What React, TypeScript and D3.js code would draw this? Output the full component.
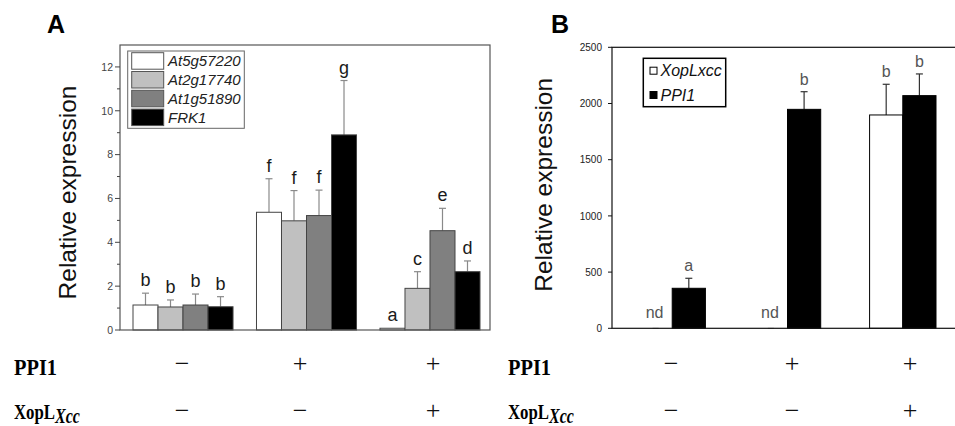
import React from "react";
import * as d3 from "d3";

// ---------- Panel A data ----------
const conditionsA = ["ctrl", "PPI1", "PPI1+XopL"];
const genesA = ["At5g57220", "At2g17740", "At1g51890", "FRK1"];
const meanA = [
  [1.14, 1.05, 1.14, 1.06],
  [5.37, 4.98, 5.22, 8.9],
  [0.08, 1.9, 4.53, 2.66],
];
const errA = [
  [0.54, 0.32, 0.5, 0.46],
  [1.53, 1.38, 1.16, 2.48],
  [0.02, 0.76, 1.02, 0.49],
];
const lettersA = [
  ["b", "b", "b", "b"],
  ["f", "f", "f", "g"],
  ["a", "c", "e", "d"],
];
const ticksA = [0, 2, 4, 6, 8, 10, 12];
const minorTicksA = [1, 3, 5, 7, 9, 11];

// ---------- Panel B data ----------
const conditionsB = ["ctrl", "PPI1", "PPI1+XopL"];
const seriesB = ["XopLxcc", "PPI1"];
const meanB: (number | null)[][] = [
  [null, 356],
  [null, 1948],
  [1898, 2070],
];
const errB = [
  [0, 89],
  [0, 157],
  [273, 193],
];
const lettersB = [
  ["nd", "a"],
  ["nd", "b"],
  ["b", "b"],
];
const ticksB = [0, 500, 1000, 1500, 2000, 2500];

// ---------- Treatment table ----------
const rowLabels = ["PPI1", "XopL"];
const rowSub = "Xcc";
const ppiSigns = ["−", "+", "+"];
const xopSigns = ["−", "−", "+"];

// ---------- styles ----------
const colorsA = ["#ffffff", "#c0c0c0", "#808080", "#000000"];
const colorsB = ["#ffffff", "#000000"];
const SANS = "'Liberation Sans', Arial, sans-serif";
const SERIF = "'Liberation Serif', 'Times New Roman', serif";

export default function App() {
  const W = 955;
  const H = 426;

  // Panel A scales
  const xA = d3.scaleBand<number>().domain(conditionsA.map((_, i) => i)).range([133, 480]).paddingInner(0.19);
  const xAi = d3.scaleBand<number>().domain(genesA.map((_, i) => i)).range([0, xA.bandwidth()]);
  const yA = d3.scaleLinear().domain([0, 13]).range([330, 45]);
  const frameA = { l: 120, r: 490 };

  // Panel B scales
  const xB = d3.scaleBand<number>().domain(conditionsB.map((_, i) => i)).range([639, 936]).paddingInner(0.424);
  const xBi = d3.scaleBand<number>().domain(seriesB.map((_, i) => i)).range([0, xB.bandwidth()]);
  const yB = d3.scaleLinear().domain([0, 2500]).range([328.3, 47.3]);
  const frameB = { l: 612, r: 962 };

  const colsA = [182, 300, 433];
  const colsB = [671, 792, 910];

  return (
    <svg width={W} height={H} style={{ position: "absolute", left: 0, top: 0, background: "#fff" }}>
      <rect x={0} y={0} width={W} height={H} fill="#fff" />

      {/* ================= Panel A ================= */}
      <text x={47} y={33} fontFamily={SANS} fontWeight="bold" fontSize={25} fill="#000">A</text>
      <text
        transform={`translate(76,${(yA(0) + yA(13)) / 2 + 5}) rotate(-90)`}
        textAnchor="middle"
        fontFamily={SANS}
        fontSize={24.5}
        fill="#111"
      >
        Relative expression
      </text>

      {/* bars */}
      {meanA.map((grp, gi) =>
        grp.map((v, si) => {
          const x0 = (xA(gi) ?? 0) + (xAi(si) ?? 0);
          const w = xAi.bandwidth();
          const cx = x0 + w / 2;
          const top = yA(v + errA[gi][si]);
          return (
            <g key={`a-${gi}-${si}`}>
              {errA[gi][si] > 0.05 && (
                <g stroke="#8a8a8a" strokeWidth={1.2}>
                  <line x1={cx} x2={cx} y1={yA(v)} y2={top} />
                  <line x1={cx - 3.5} x2={cx + 3.5} y1={top} y2={top} />
                </g>
              )}
              <rect
                x={x0}
                y={yA(v)}
                width={w}
                height={yA(0) - yA(v)}
                fill={colorsA[si]}
                stroke="#444"
                strokeWidth={1}
              />
              <text
                x={cx}
                y={top - 7}
                textAnchor="middle"
                fontFamily={SANS}
                fontSize={18}
                fill="#1a1a1a"
              >
                {lettersA[gi][si]}
              </text>
            </g>
          );
        })
      )}

      {/* frame A */}
      <rect x={frameA.l} y={yA(13)} width={frameA.r - frameA.l} height={yA(0) - yA(13)} fill="none" stroke="#555" strokeWidth={1.2} />
      {/* y ticks A */}
      {ticksA.map((t) => (
        <g key={`ta-${t}`}>
          <line x1={frameA.l - 5} x2={frameA.l} y1={yA(t)} y2={yA(t)} stroke="#444" strokeWidth={1} />
          <text x={frameA.l - 7} y={yA(t) + 3.8} textAnchor="end" fontFamily={SANS} fontSize={10.5} fill="#444">
            {t}
          </text>
        </g>
      ))}
      {minorTicksA.map((t) => (
        <line key={`ma-${t}`} x1={frameA.l - 3} x2={frameA.l} y1={yA(t)} y2={yA(t)} stroke="#444" strokeWidth={1} />
      ))}

      {/* legend A */}
      <rect x={127.7} y={51} width={116.6} height={77.3} fill="#fff" stroke="#666" strokeWidth={1} />
      {genesA.map((g, i) => {
        const y0 = 52.7 + i * 18.8;
        return (
          <g key={`la-${g}`}>
            <rect x={131.7} y={y0} width={32} height={16.5} fill={colorsA[i]} stroke="#555" strokeWidth={1} />
            <text x={168} y={y0 + 13.5} fontFamily={SANS} fontStyle="italic" fontSize={15} fill="#222">
              {g}
            </text>
          </g>
        );
      })}

      {/* ================= Panel B ================= */}
      <text x={551} y={33} fontFamily={SANS} fontWeight="bold" fontSize={25} fill="#000">B</text>
      <text
        transform={`translate(552,${(yB(0) + yB(2500)) / 2 - 3}) rotate(-90)`}
        textAnchor="middle"
        fontFamily={SANS}
        fontSize={24.5}
        fill="#111"
      >
        Relative expression
      </text>

      {meanB.map((grp, gi) =>
        grp.map((v, si) => {
          const x0 = (xB(gi) ?? 0) + (xBi(si) ?? 0);
          const w = xBi.bandwidth();
          const cx = x0 + w / 2;
          if (v === null) {
            return (
              <g key={`b-${gi}-${si}`}>
                <line x1={cx - 3} x2={cx + 3} y1={yB(0)} y2={yB(0)} stroke="#999" strokeWidth={1} />
                <text x={cx - 1} y={yB(0) - 10} textAnchor="middle" fontFamily={SANS} fontSize={16} fill="#555">
                  {lettersB[gi][si]}
                </text>
              </g>
            );
          }
          const top = yB(v + errB[gi][si]);
          return (
            <g key={`b-${gi}-${si}`}>
              <g stroke="#333" strokeWidth={1.2}>
                <line x1={cx} x2={cx} y1={yB(v)} y2={top} />
                <line x1={cx - 3.5} x2={cx + 3.5} y1={top} y2={top} />
              </g>
              <rect
                x={x0}
                y={yB(v)}
                width={w}
                height={yB(0) - yB(v)}
                fill={colorsB[si]}
                stroke="#000"
                strokeWidth={1}
              />
              <text x={cx} y={top - 7} textAnchor="middle" fontFamily={SANS} fontSize={16} fill="#555">
                {lettersB[gi][si]}
              </text>
            </g>
          );
        })
      )}

      {/* frame B */}
      <rect x={frameB.l} y={yB(2500)} width={frameB.r - frameB.l} height={yB(0) - yB(2500)} fill="none" stroke="#111" strokeWidth={1.2} />
      {ticksB.map((t) => (
        <g key={`tb-${t}`}>
          <line x1={frameB.l - 4} x2={frameB.l} y1={yB(t)} y2={yB(t)} stroke="#111" strokeWidth={1} />
          <text x={frameB.l - 10} y={yB(t) + 3.6} textAnchor="end" fontFamily={SANS} fontSize={10} fill="#222">
            {t}
          </text>
        </g>
      ))}

      {/* legend B */}
      <rect x={643.3} y={58.3} width={82.4} height={48.4} fill="#fff" stroke="#000" strokeWidth={1.5} />
      {seriesB.map((s, i) => {
        const cy = 70.7 + i * 24.3;
        return (
          <g key={`lb-${s}`}>
            <rect x={650} y={cy - 3.5} width={7} height={7} fill={colorsB[i]} stroke="#000" strokeWidth={1} />
            <text x={660.5} y={cy + 5.5} fontFamily={SANS} fontStyle="italic" fontSize={16} fill="#111">
              {s}
            </text>
          </g>
        );
      })}

      {/* ================= Treatment table ================= */}
      {[{ x: 14, cols: colsA }, { x: 508, cols: colsB }].map((p, pi) => (
        <g key={`tbl-${pi}`}>
          <text x={p.x} y={375} fontFamily={SERIF} fontWeight="bold" fontSize={24} textLength={43} lengthAdjust="spacingAndGlyphs" fill="#000">
            {rowLabels[0]}
          </text>
          <text
            transform={`translate(${p.x},419) scale(0.8,1)`}
            fontFamily={SERIF}
            fontWeight="bold"
            fontSize={21}
            fill="#000"
          >
            {rowLabels[1]}
            <tspan dy={4} fontSize={20} fontStyle="italic">{rowSub}</tspan>
          </text>
          {p.cols.map((cx, ci) => (
            <g key={`c-${ci}`}>
              <text x={cx} y={372} textAnchor="middle" fontFamily={SERIF} fontSize={26} fill="#111">
                {ppiSigns[ci]}
              </text>
              <text x={cx} y={419} textAnchor="middle" fontFamily={SERIF} fontSize={26} fill="#111">
                {xopSigns[ci]}
              </text>
            </g>
          ))}
        </g>
      ))}
    </svg>
  );
}
